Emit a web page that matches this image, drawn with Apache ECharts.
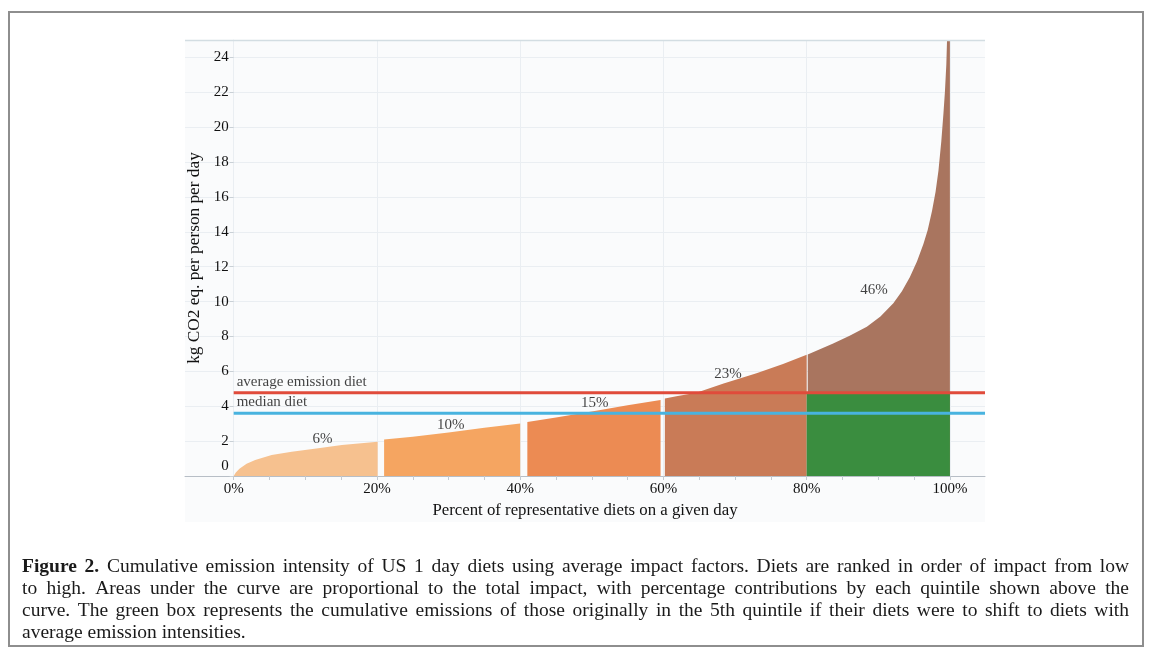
<!DOCTYPE html>
<html><head><meta charset="utf-8">
<script src="https://cdn.jsdelivr.net/npm/echarts@6/dist/echarts.min.js"></script>
<style>html,body{margin:0;padding:0;background:#fff}#c{width:1152px;height:657px}</style>
</head><body><div id="c"></div>
<script>
// ---- data (x: percent of diets, y: kg CO2 eq. per person per day) ----
const quintile1 = [[0,0],[0.3,0.2],[0.8,0.42],[1.8,0.7],[3,0.92],[5.3,1.2],[8.1,1.39],[11.8,1.59],[15.1,1.78],[20.1,1.97]];
const quintile2 = [[21,2.1],[25,2.25],[30,2.5],[35,2.76],[40,3.01]];
const quintile3 = [[41,3.1],[45,3.35],[50,3.7],[55,4.05],[59.6,4.36]];
const quintile4 = [[60.2,4.45],[62,4.58],[64.6,4.77],[68.4,5.31],[73,5.89],[76.7,6.42],[80,6.95]];
const quintile5 = [[80.15,6.97],[83.7,7.6],[86,8.04],[88.4,8.56],[90.3,9.15],[92.1,9.9],[93.3,10.6],[94.4,11.4],[95.4,12.3],[96.3,13.3],[96.9,14.1],[97.5,15.2],[98,16.3],[98.4,17.5],[98.8,19.2],[99.1,20.8],[99.3,22],[99.5,23.6],[99.6,25],[100,25]];
const avgEmission = 4.77;
const medianDiet = 3.6;
const greenBoxX = [80, 100];
const shareLabels = ['6%','10%','15%','23%','46%'];
const shareX = [12.4, 30.3, 50.4, 69.0, 89.4];
const shareY = [2.1, 2.92, 4.17, 5.85, 10.66];
const xTickLabels = [0,20,40,60,80,100];
const xMinorTicks = [0,5,10,15,20,25,30,35,40,45,50,55,60,65,70,75,80,85,90,95,100];
const X_MIN = -6.8, X_MAX = 104.9;
const Y_MIN = 0, Y_MAX = 25, Y_STEP = 2;
const captionLines = [
  'Figure 2. Cumulative emission intensity of US 1 day diets using average impact factors. Diets are ranked in order of impact from low',
  'to high. Areas under the curve are proportional to the total impact, with percentage contributions by each quintile shown above the',
  'curve. The green box represents the cumulative emissions of those originally in the 5th quintile if their diets were to shift to diets with',
  'average emission intensities.'
];

const SERIF = '"Liberation Serif","Times New Roman",serif';
const colors = ['#f6c18f','#f5a561','#ec8b53','#c97b57','#a9755f'];

const GRID_LEFT = 185, GRID_W = 800;
// y axis sits at x = 0 of the x axis
const yAxisOffset = -((0 - X_MIN) / (X_MAX - X_MIN)) * GRID_W;

const chart = echarts.init(document.getElementById('c'), null, {renderer:'canvas'});

// caption layout (justified, real text)
const ctx = document.createElement('canvas').getContext('2d');
const capLeft = 22, capRight = 1129, capTop = 569, capLH = 22;
function measure(w, bold, fs){ ctx.font = (bold?'bold ':'') + fs + 'px "Liberation Serif"'; return ctx.measureText(w).width; }
let fs = 19.5;
for (; fs > 13; fs -= 0.25) {
  let ok = true;
  captionLines.forEach((ln, li) => {
    const words = ln.split(' ');
    let w = 0;
    words.forEach((wd, i) => { w += measure(wd, li===0 && i<2, fs); });
    w += (words.length-1) * measure(' ', false, fs) * 0.85;
    if (w > capRight - capLeft) ok = false;
  });
  if (ok) break;
}
const captionEls = [];
captionLines.forEach((ln, li) => {
  const words = ln.split(' ');
  const widths = words.map((wd, i) => measure(wd, li===0 && i<2, fs));
  const total = widths.reduce((a,b)=>a+b,0);
  const justify = li < captionLines.length-1;
  const gap = justify ? (capRight-capLeft-total)/(words.length-1) : measure(' ', false, fs);
  let x = capLeft;
  words.forEach((wd, i) => {
    captionEls.push({type:'text', left:x, top: capTop + li*capLH - fs*0.6, silent:true,
      style:{text:wd, font:(li===0&&i<2?'bold ':'') + fs + 'px "Liberation Serif"', fill:'#1a1a1a'}});
    x += widths[i] + gap;
  });
});

function areaSeries(data, color, z){
  return {type:'line', data, xAxisIndex:0, yAxisIndex:0, symbol:'none', showSymbol:false,
    lineStyle:{width:0}, areaStyle:{color, opacity:1}, z, silent:true, clip:true};
}

const option = {
  animation:false,
  backgroundColor:'#ffffff',
  graphic: [
    {type:'rect', z:-100, shape:{x:185,y:40,width:800,height:482}, style:{fill:'#fafbfc'}, silent:true},
    {type:'line', z:100, shape:{x1:185,y1:40.5,x2:985,y2:40.5}, style:{stroke:'#d3dde2', lineWidth:1.5}, silent:true},
    {type:'rect', z:100, shape:{x:9,y:12,width:1134,height:634}, style:{fill:'none', stroke:'#8e8e8e', lineWidth:2}, silent:true},
    ...captionEls
  ],
  grid:{left:GRID_LEFT, width:GRID_W, top:40, bottom:181, containLabel:false},
  xAxis:[
    {type:'value', min:X_MIN, max:X_MAX, position:'bottom',
     name:'Percent of representative diets on a given day', nameLocation:'middle', nameGap:24,
     nameTextStyle:{fontFamily:SERIF, fontSize:16.8, color:'#111'},
     axisLine:{onZero:false, show:true, lineStyle:{color:'#b7bec6', width:1}},
     axisTick:{show:false, customValues:xTickLabels},
     axisLabel:{customValues:xTickLabels, formatter:'{value}%', fontFamily:SERIF, fontSize:15, color:'#111', margin:6},
     splitLine:{show:true, lineStyle:{color:'#eaeef2', width:1}}},
    {type:'value', min:X_MIN, max:X_MAX, position:'bottom',
     axisLine:{onZero:false, show:false},
     axisTick:{show:true, customValues:xMinorTicks, length:4, lineStyle:{color:'#c3cad1'}},
     axisLabel:{show:false}, splitLine:{show:false}}
  ],
  yAxis:{type:'value', min:Y_MIN, max:Y_MAX, interval:Y_STEP, position:'left', offset:yAxisOffset,
    name:'kg CO2 eq. per person per day', nameLocation:'middle', nameGap:15, nameRotate:90,
    nameTextStyle:{fontFamily:SERIF, fontSize:17.3, color:'#111'},
    axisLine:{show:true, onZero:false, lineStyle:{color:'#eaeef2'}},
    axisTick:{show:true, length:4, lineStyle:{color:'#c9d0d6'}},
    axisLabel:{showMaxLabel:false, fontFamily:SERIF, fontSize:15, color:'#111', margin:5,
      formatter:v => v===0 ? '{z|0}' : String(v),
      rich:{z:{fontFamily:SERIF, fontSize:15, color:'#111', padding:[0,0,20,0]}}},
    splitLine:{show:true, lineStyle:{color:'#eaeef2', width:1}}},
  series:[
    areaSeries(quintile1, colors[0], 2),
    areaSeries(quintile2, colors[1], 2),
    areaSeries(quintile3, colors[2], 2),
    areaSeries(quintile4, colors[3], 2),
    areaSeries(quintile5, colors[4], 2),
    {type:'line', data:greenBoxX.map(x => [x, avgEmission]), symbol:'none', lineStyle:{width:0},
     areaStyle:{color:'#3a8d3f', opacity:1}, z:3, silent:true},
    {type:'line', data:[[0, avgEmission],[X_MAX, avgEmission]], symbol:'none', lineStyle:{color:'#e04b3b', width:3}, z:4, silent:true},
    {type:'line', data:[[0, medianDiet],[X_MAX, medianDiet]], symbol:'none', lineStyle:{color:'#48b3df', width:3}, z:4, silent:true},
    {type:'scatter', symbolSize:0, z:5, silent:true,
     data:[[0, avgEmission, 'average emission diet'],[0, medianDiet, 'median diet']],
     label:{show:true, position:[3,-11], align:'left', verticalAlign:'middle', formatter:p => p.data[2],
       fontFamily:SERIF, fontSize:15, color:'#111'}},
    {type:'scatter', symbolSize:0, z:5, silent:true,
     data:shareX.map((x,i) => [x, shareY[i], shareLabels[i]]),
     label:{show:true, position:'inside', formatter:p => p.data[2], fontFamily:SERIF, fontSize:15, color:'#111'}}
  ]
};
chart.setOption(option);
</script></body></html>
